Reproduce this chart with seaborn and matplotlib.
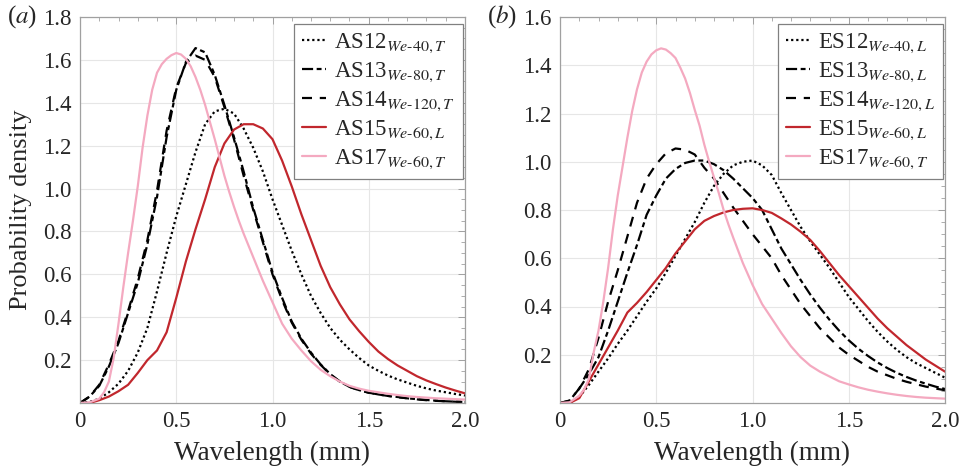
import numpy as np
import pandas as pd
import matplotlib
matplotlib.use("Agg")
import matplotlib.pyplot as plt
from matplotlib.ticker import MultipleLocator, FixedLocator
import seaborn as sns

# ---------------- data ----------------
wavelength = [0.00, 0.05, 0.10, 0.15, 0.20, 0.25, 0.30, 0.35, 0.40, 0.45,
              0.50, 0.55, 0.60, 0.65, 0.70, 0.75, 0.80, 0.85, 0.90, 0.95,
              1.00, 1.05, 1.10, 1.15, 1.20, 1.25, 1.30, 1.35, 1.40, 1.45,
              1.50, 1.55, 1.60, 1.65, 1.70, 1.75, 1.80, 1.85, 1.90, 1.95, 2.00]
# finer sampling for the steep pink curves
wavelength_fine = [0.00, 0.05, 0.10, 0.125, 0.15, 0.175, 0.20, 0.225, 0.25, 0.275,
                   0.30, 0.325, 0.35, 0.375, 0.40, 0.425, 0.45, 0.475, 0.50, 0.525,
                   0.55, 0.575, 0.60, 0.625, 0.65, 0.675, 0.70, 0.725, 0.75, 0.775,
                   0.80, 0.825, 0.85, 0.875, 0.90, 0.95, 1.00, 1.05, 1.10, 1.15,
                   1.20, 1.25, 1.30, 1.35, 1.40, 1.45, 1.50, 1.55, 1.60, 1.65,
                   1.70, 1.75, 1.80, 1.85, 1.90, 1.95, 2.00]

# panel (a)
as12 = [0.0, 0.005, 0.02, 0.05, 0.09, 0.15, 0.235, 0.35, 0.52, 0.70,
        0.87, 1.02, 1.17, 1.30, 1.36, 1.372, 1.35, 1.28, 1.19, 1.08,
        0.95, 0.83, 0.71, 0.60, 0.50, 0.42, 0.35, 0.295, 0.25, 0.21,
        0.175, 0.15, 0.128, 0.11, 0.095, 0.08, 0.068, 0.058, 0.05, 0.042, 0.035]
as13 = [0.0, 0.03, 0.08, 0.17, 0.28, 0.42, 0.56, 0.74, 0.96, 1.24,
        1.46, 1.59, 1.655, 1.635, 1.53, 1.39, 1.24, 1.08, 0.91, 0.76,
        0.61, 0.49, 0.38, 0.30, 0.235, 0.18, 0.135, 0.10, 0.075, 0.06,
        0.048, 0.04, 0.033, 0.028, 0.022, 0.018, 0.014, 0.011, 0.008, 0.006, 0.005]
as14 = [0.0, 0.03, 0.085, 0.18, 0.29, 0.43, 0.58, 0.76, 0.99, 1.27,
        1.47, 1.585, 1.62, 1.60, 1.52, 1.38, 1.23, 1.06, 0.90, 0.75,
        0.60, 0.48, 0.375, 0.295, 0.23, 0.178, 0.133, 0.10, 0.075, 0.06,
        0.048, 0.04, 0.033, 0.027, 0.022, 0.017, 0.013, 0.010, 0.008, 0.006, 0.005]
as15 = [0.0, 0.0, 0.013, 0.03, 0.055, 0.085, 0.14, 0.20, 0.245, 0.33,
        0.49, 0.66, 0.81, 0.95, 1.10, 1.21, 1.275, 1.30, 1.30, 1.28,
        1.23, 1.13, 1.01, 0.88, 0.76, 0.64, 0.54, 0.46, 0.39, 0.335,
        0.285, 0.24, 0.205, 0.175, 0.15, 0.125, 0.105, 0.088, 0.072, 0.058, 0.045]
as17 = [0.0, 0.003, 0.02, 0.05, 0.10, 0.21, 0.37, 0.54, 0.70, 0.85,
        1.01, 1.19, 1.34, 1.46, 1.54, 1.58, 1.605, 1.622, 1.632, 1.625,
        1.605, 1.57, 1.52, 1.46, 1.39, 1.31, 1.23, 1.145, 1.06, 0.985,
        0.915, 0.85, 0.79, 0.735, 0.68, 0.57, 0.47, 0.37, 0.30, 0.245,
        0.195, 0.155, 0.125, 0.10, 0.08, 0.067, 0.057, 0.05, 0.043, 0.037,
        0.032, 0.028, 0.025, 0.022, 0.02, 0.018, 0.016]

# panel (b)
es12 = [0.0, 0.0, 0.025, 0.075, 0.13, 0.185, 0.245, 0.30, 0.36, 0.42,
        0.475, 0.54, 0.61, 0.68, 0.75, 0.83, 0.90, 0.95, 0.985, 1.0,
        1.005, 0.985, 0.945, 0.87, 0.80, 0.73, 0.67, 0.615, 0.56, 0.50,
        0.44, 0.39, 0.34, 0.295, 0.255, 0.22, 0.19, 0.165, 0.145, 0.125, 0.105]
es13 = [0.0, 0.01, 0.06, 0.12, 0.19, 0.30, 0.42, 0.54, 0.655, 0.78,
        0.86, 0.93, 0.97, 0.995, 1.005, 1.005, 0.99, 0.965, 0.93, 0.89,
        0.85, 0.80, 0.72, 0.64, 0.575, 0.51, 0.45, 0.395, 0.345, 0.30,
        0.26, 0.225, 0.195, 0.168, 0.145, 0.125, 0.108, 0.093, 0.08, 0.068, 0.058]
es14 = [0.0, 0.01, 0.06, 0.14, 0.27, 0.42, 0.55, 0.69, 0.83, 0.93,
        0.99, 1.035, 1.055, 1.05, 1.03, 0.975, 0.93, 0.87, 0.81, 0.755,
        0.70, 0.65, 0.60, 0.53, 0.47, 0.41, 0.36, 0.31, 0.27, 0.23,
        0.20, 0.175, 0.15, 0.13, 0.115, 0.10, 0.088, 0.078, 0.068, 0.06, 0.053]
es15 = [0.0, 0.0, 0.02, 0.09, 0.16, 0.23, 0.30, 0.375, 0.415, 0.46,
        0.51, 0.56, 0.62, 0.67, 0.72, 0.755, 0.775, 0.79, 0.80, 0.805,
        0.807, 0.80, 0.788, 0.765, 0.74, 0.71, 0.676, 0.63, 0.58, 0.53,
        0.485, 0.44, 0.395, 0.35, 0.31, 0.275, 0.24, 0.21, 0.18, 0.155, 0.13]
es17 = [0.0, 0.003, 0.03, 0.055, 0.10, 0.21, 0.30, 0.42, 0.56, 0.72,
        0.86, 0.98, 1.10, 1.21, 1.30, 1.37, 1.415, 1.445, 1.462, 1.47,
        1.465, 1.45, 1.43, 1.39, 1.345, 1.285, 1.215, 1.15, 1.07, 1.0,
        0.935, 0.87, 0.80, 0.74, 0.685, 0.58, 0.49, 0.41, 0.35, 0.29,
        0.235, 0.19, 0.155, 0.13, 0.11, 0.09, 0.077, 0.065, 0.055, 0.047,
        0.04, 0.034, 0.029, 0.025, 0.022, 0.02, 0.018]

labels_a = [r"AS12$_{We\text{-}40,T}$", r"AS13$_{We\text{-}80,T}$",
            r"AS14$_{We\text{-}120,T}$", r"AS15$_{We\text{-}60,L}$",
            r"AS17$_{We\text{-}60,T}$"]
labels_b = [r"ES12$_{We\text{-}40,L}$", r"ES13$_{We\text{-}80,L}$",
            r"ES14$_{We\text{-}120,L}$", r"ES15$_{We\text{-}60,L}$",
            r"ES17$_{We\text{-}60,T}$"]
x_ticks = [0, 0.5, 1.0, 1.5, 2.0]
x_ticklabels = ["0", "0.5", "1.0", "1.5", "2.0"]

# ---------------- style ----------------
sns.set_theme(style="white")
plt.rcParams["font.family"] = ["Liberation Serif", "DejaVu Serif"]
plt.rcParams["mathtext.fontset"] = "stix"
plt.rcParams["lines.solid_joinstyle"] = "round"
plt.rcParams["lines.dash_joinstyle"] = "round"

styles = [
    dict(color="black", linestyle=(0, (1.0, 1.3)), lw=1.6),
    dict(color="black", linestyle=(0, (5, 1.6, 2.2, 1.6)), lw=1.6),
    dict(color="black", linestyle=(0, (4.5, 3.5)), lw=1.6),
    dict(color="#c1272d", linestyle="-", lw=1.6),
    dict(color="#f4a9c0", linestyle="-", lw=1.6),
]

W, H = 966, 466
fig = plt.figure(figsize=(W / 100, H / 100), dpi=100)
ax_a = fig.add_axes([80 / W, (H - 403) / H, 385 / W, 386 / H])
ax_b = fig.add_axes([560 / W, (H - 403) / H, 385 / W, 386 / H])

frame_col = "#a0a0a0"


def draw(ax, series, labels, ymax, yticks, tag):
    for (xs, vals), lab, st in zip(series, labels, styles):
        df = pd.DataFrame({"Wavelength": xs, "Density": vals})
        sns.lineplot(data=df, x="Wavelength", y="Density", ax=ax, label=lab,
                     color=st["color"], linestyle=st["linestyle"],
                     linewidth=st["lw"])
    ax.set_xlim(0, 2.0)
    ax.set_ylim(0, ymax)
    ax.xaxis.set_major_locator(FixedLocator(x_ticks))
    ax.set_xticklabels(x_ticklabels)
    ax.yaxis.set_major_locator(FixedLocator(yticks))
    ax.set_yticklabels([f"{v:.1f}" for v in yticks])
    ax.xaxis.set_minor_locator(MultipleLocator(0.1))
    ax.yaxis.set_minor_locator(MultipleLocator(0.05))
    ax.grid(True, which="major", color="#e6e6e6", linewidth=0.8)
    ax.tick_params(which="both", direction="in", top=True, right=True,
                   color=frame_col, labelsize=16.5, pad=6)
    ax.tick_params(which="major", length=5, width=0.7)
    ax.tick_params(which="minor", length=3, width=0.6)
    for sp in ax.spines.values():
        sp.set_color(frame_col)
        sp.set_linewidth(0.9)
    ax.set_xlabel("Wavelength (mm)", fontsize=19.5, labelpad=6)
    leg = ax.legend(loc="upper right", bbox_to_anchor=(0.995, 0.982),
                    fontsize=16.5, frameon=True,
                    fancybox=False, edgecolor="#808080", framealpha=1,
                    handlelength=1.05, handletextpad=0.35, borderpad=0.35,
                    labelspacing=0.24, borderaxespad=0.0)
    leg.get_frame().set_linewidth(0.9)
    ax.text(-0.19, 1.0, tag, transform=ax.transAxes, fontsize=18,
            ha="left", va="center")


W_ = wavelength
WF = wavelength_fine
draw(ax_a, [(W_, as12), (W_, as13), (W_, as14), (W_, as15), (WF, as17)],
     labels_a, 1.8, [0.2, 0.4, 0.6, 0.8, 1.0, 1.2, 1.4, 1.6, 1.8],
     r"($\mathit{a}$)")
ax_a.set_ylabel("Probability density", fontsize=19, labelpad=8)
draw(ax_b, [(W_, es12), (W_, es13), (W_, es14), (W_, es15), (WF, es17)],
     labels_b, 1.6, [0.2, 0.4, 0.6, 0.8, 1.0, 1.2, 1.4, 1.6],
     r"($\mathit{b}$)")
ax_b.set_ylabel("")

fig.savefig("out.png", dpi=100)
